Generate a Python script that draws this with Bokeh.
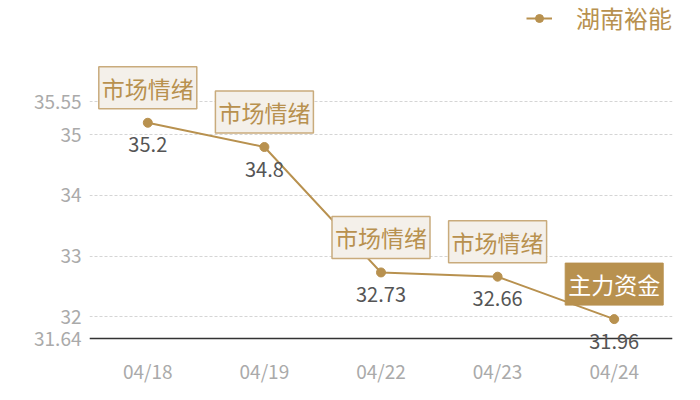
from bokeh.plotting import figure
from bokeh.models import ColumnDataSource, FixedTicker, Range1d, Legend, LegendItem, Span
from bokeh.core.properties import value
from bokeh.embed import file_html
from bokeh.resources import INLINE

dates = ["04/18", "04/19", "04/22", "04/23", "04/24"]
prices = [35.2, 34.8, 32.73, 32.66, 31.96]
price_labels = ["35.2", "34.8", "32.73", "32.66", "31.96"]
tags = ["市场情绪", "市场情绪", "市场情绪", "市场情绪", "主力资金"]
y_ticks = [31.64, 32, 33, 34, 35, 35.55]
y_min, y_max = 31.64, 35.55
series_name = "湖南裕能"

GOLD = "#B8914F"
FONT = "Noto Sans CJK SC"

W, H = 684, 390
PPU = 60.6          # pixels per price unit
AXIS_Y = 338        # pixel row of the baseline
FRAME_B = 356       # frame bottom
p = figure(width=W, height=H, x_range=dates, output_backend="svg",
           toolbar_location=None, min_border_left=89, min_border_right=12,
           min_border_top=0, min_border_bottom=H - FRAME_B)
p.y_range = Range1d(y_min - (FRAME_B - AXIS_Y) / PPU, y_min + AXIS_Y / PPU)
p.outline_line_color = None
p.background_fill_color = "white"

base = Span(location=y_min, dimension="width", line_color="#333333", line_width=1.5,
            level="underlay")
p.add_layout(base)

src = ColumnDataSource(dict(x=dates, y=prices, lab=price_labels))

ln = p.line("x", "y", source=src, line_color=GOLD, line_width=2)
sc = p.scatter("x", "y", source=src, size=9, fill_color=GOLD, line_color=GOLD)

p.text("x", "y", text="lab", source=src, text_align="center", text_baseline="middle",
       y_offset=22, text_font=value(FONT), text_font_size="20px", text_color="#555555")

src_a = ColumnDataSource(dict(x=dates[:4], y=prices[:4], tag=tags[:4]))
src_b = ColumnDataSource(dict(x=dates[4:], y=prices[4:], tag=tags[4:]))
p.text("x", "y", text="tag", source=src_a, text_align="center", text_baseline="middle",
       y_offset=-35, text_font=value(FONT), text_font_size="23px", text_color=GOLD,
       background_fill_color="#F4F0EA", border_line_color="#C9AB7C", border_line_width=1.5,
       padding=[3, 4])
p.text("x", "y", text="tag", source=src_b, text_align="center", text_baseline="middle",
       y_offset=-35, text_font=value(FONT), text_font_size="23px", text_color="white",
       background_fill_color=GOLD, border_line_color=GOLD, padding=[3, 4])

p.yaxis.ticker = FixedTicker(ticks=y_ticks)
p.yaxis.axis_line_color = None
p.yaxis.major_tick_line_color = None
p.yaxis.minor_tick_line_color = None
p.yaxis.major_tick_out = 0
p.yaxis.major_label_text_font = FONT
p.yaxis.major_label_text_font_size = "19px"
p.yaxis.major_label_text_color = "#AAAAAA"
p.yaxis.major_label_standoff = 8

p.xaxis.axis_line_color = None
p.xaxis.major_tick_line_color = None
p.xaxis.minor_tick_line_color = None
p.xaxis.major_tick_out = 0
p.xaxis.major_tick_in = 0
p.xaxis.major_label_text_font = FONT
p.xaxis.major_label_text_font_size = "19px"
p.xaxis.major_label_text_color = "#AAAAAA"
p.xaxis.major_label_standoff = 0

p.xgrid.grid_line_color = None
p.ygrid.grid_line_color = "#D5D5D5"
p.ygrid.grid_line_dash = "3 2"

legend = Legend(items=[LegendItem(label=series_name, renderers=[ln, sc])],
                location="top_right", border_line_color=None, background_fill_alpha=0,
                label_text_font=FONT, label_text_font_size="24px", label_text_color=GOLD,
                glyph_width=26, label_standoff=24, margin=0, padding=0)
p.add_layout(legend)

open("out.html", "w").write(file_html(p, INLINE))
